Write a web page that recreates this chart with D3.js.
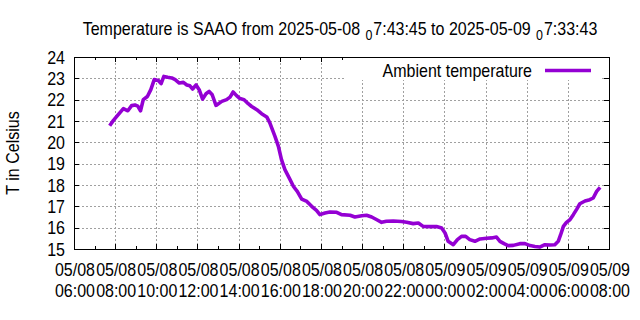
<!DOCTYPE html>
<html><head><meta charset="utf-8">
<script src="https://cdn.jsdelivr.net/npm/d3@7"></script>
<style>
html,body{margin:0;padding:0;background:#fff;}
svg text{font-family:"Liberation Sans",Arial,sans-serif;fill:#000;}
</style></head>
<body>
<svg id="chart" width="640" height="320"></svg>
<script>
const titleParts = ["Temperature is SAAO from 2025-05-08", "0", "7:43:45 to 2025-05-09", "0", "7:33:43"];
const yLabel = "T in Celsius";
const seriesName = "Ambient temperature";
const xDomain = ["2025-05-08 06:00", "2025-05-09 08:00"];
const yDomain = [15, 24];
const yTicks = [15, 16, 17, 18, 19, 20, 21, 22, 23, 24];
const times = [
"2025-05-08 07:44","2025-05-08 07:55","2025-05-08 08:09","2025-05-08 08:24","2025-05-08 08:37","2025-05-08 08:48",
"2025-05-08 08:58","2025-05-08 09:06","2025-05-08 09:14","2025-05-08 09:22","2025-05-08 09:34","2025-05-08 09:44",
"2025-05-08 09:54","2025-05-08 10:06","2025-05-08 10:14","2025-05-08 10:22","2025-05-08 10:33","2025-05-08 10:45",
"2025-05-08 10:55","2025-05-08 11:07","2025-05-08 11:19","2025-05-08 11:29","2025-05-08 11:38","2025-05-08 11:46",
"2025-05-08 11:56","2025-05-08 12:05","2025-05-08 12:15","2025-05-08 12:25","2025-05-08 12:34","2025-05-08 12:43",
"2025-05-08 12:54","2025-05-08 13:11","2025-05-08 13:25","2025-05-08 13:35","2025-05-08 13:44","2025-05-08 13:54",
"2025-05-08 14:04","2025-05-08 14:16","2025-05-08 14:28","2025-05-08 14:38","2025-05-08 14:53","2025-05-08 15:07",
"2025-05-08 15:22","2025-05-08 15:31","2025-05-08 15:46","2025-05-08 15:56","2025-05-08 16:05","2025-05-08 16:15",
"2025-05-08 16:30","2025-05-08 16:40","2025-05-08 16:51","2025-05-08 17:04","2025-05-08 17:19","2025-05-08 17:33",
"2025-05-08 17:47","2025-05-08 17:57","2025-05-08 18:12","2025-05-08 18:26","2025-05-08 18:46","2025-05-08 19:00",
"2025-05-08 19:25","2025-05-08 19:39","2025-05-08 19:59","2025-05-08 20:13","2025-05-08 20:28","2025-05-08 20:43",
"2025-05-08 20:57","2025-05-08 21:11","2025-05-08 21:31","2025-05-08 21:55","2025-05-08 22:10","2025-05-08 22:29",
"2025-05-08 22:44","2025-05-08 22:58","2025-05-08 23:18","2025-05-08 23:37","2025-05-08 23:52","2025-05-09 00:02",
"2025-05-09 00:11","2025-05-09 00:26","2025-05-09 00:38","2025-05-09 00:50","2025-05-09 01:02","2025-05-09 01:14",
"2025-05-09 01:29","2025-05-09 01:44","2025-05-09 02:03","2025-05-09 02:18","2025-05-09 02:32","2025-05-09 02:42",
"2025-05-09 02:54","2025-05-09 03:06","2025-05-09 03:21","2025-05-09 03:40","2025-05-09 03:55","2025-05-09 04:10",
"2025-05-09 04:24","2025-05-09 04:38","2025-05-09 04:53","2025-05-09 05:08","2025-05-09 05:22","2025-05-09 05:32",
"2025-05-09 05:39","2025-05-09 05:47","2025-05-09 05:56","2025-05-09 06:06","2025-05-09 06:16","2025-05-09 06:26",
"2025-05-09 06:35","2025-05-09 06:50","2025-05-09 07:04","2025-05-09 07:14","2025-05-09 07:24","2025-05-09 07:34"
];
const temps = [
20.78,21.03,21.30,21.58,21.48,21.72,
21.75,21.70,21.48,22.00,22.15,22.47,
22.94,22.90,22.75,23.09,23.05,23.02,
22.94,22.78,22.81,22.69,22.65,22.50,
22.69,22.47,22.03,22.28,22.39,22.23,
21.73,21.92,22.00,22.12,22.36,22.19,
22.05,22.00,21.81,21.68,21.53,21.34,
21.19,20.91,20.28,19.81,19.19,18.72,
18.25,17.93,17.70,17.34,17.23,17.00,
16.81,16.61,16.69,16.73,16.72,16.61,
16.58,16.50,16.56,16.58,16.50,16.37,
16.25,16.30,16.31,16.29,16.25,16.19,
16.22,16.06,16.05,16.05,15.98,15.75,
15.36,15.20,15.44,15.59,15.59,15.44,
15.36,15.47,15.50,15.52,15.56,15.36,
15.25,15.16,15.17,15.25,15.25,15.16,
15.12,15.09,15.20,15.19,15.20,15.36,
15.67,16.06,16.25,16.37,16.61,16.87,
17.12,17.25,17.31,17.39,17.70,17.89
];

const W = 640, H = 320;
const m = {left: 74, right: 609, top: 57, bottom: 249};
const FS = 18, SX = 0.89;
const parse = d3.timeParse("%Y-%m-%d %H:%M");
const data = times.map((t, i) => ({t: parse(t), v: temps[i]}));

const svg = d3.select("#chart");
svg.append("rect").attr("width", W).attr("height", H).attr("fill", "#fff");

const x = d3.scaleTime().domain(xDomain.map(parse)).range([m.left, m.right]);
const y = d3.scaleLinear().domain(yDomain).range([m.bottom, m.top]);

const majorTicks = d3.timeHour.every(2).range(parse(xDomain[0]), d3.timeMinute.offset(parse(xDomain[1]), 1));
const minorTicks = d3.timeHour.every(1).range(parse(xDomain[0]), d3.timeMinute.offset(parse(xDomain[1]), 1))
  .filter(d => d.getHours() % 2 === 1);

function txt(g, px, py, str, anchor, extra) {
  return g.append("text")
    .attr("transform", `translate(${px},${py})${extra || ""} scale(${SX},1)`)
    .attr("text-anchor", anchor).attr("font-size", FS).text(str);
}

const grid = svg.append("g").attr("stroke", "#a0a0a0").attr("stroke-width", 1).attr("stroke-dasharray", "2,2").attr("shape-rendering", "crispEdges");
grid.selectAll(".gx").data(majorTicks.slice(1, -1)).join("line")
  .attr("x1", d => Math.round(x(d)) + 0.5).attr("x2", d => Math.round(x(d)) + 0.5)
  .attr("y1", m.bottom).attr("y2", m.top);
grid.selectAll(".gy").data(yTicks.slice(1, -1)).join("line")
  .attr("y1", d => Math.round(y(d)) + 0.5).attr("y2", d => Math.round(y(d)) + 0.5)
  .attr("x1", m.left).attr("x2", m.right);

const fmt1 = d3.timeFormat("%m/%d"), fmt2 = d3.timeFormat("%H:%M");
const mk = (axis, tr) => svg.append("g").attr("transform", tr).call(axis);
const gxb = mk(d3.axisBottom(x).tickValues(majorTicks).tickSizeInner(-5).tickSizeOuter(0).tickFormat(() => ""), `translate(0,${m.bottom})`);
const gxt = mk(d3.axisTop(x).tickValues(majorTicks).tickSizeInner(-5).tickSizeOuter(0).tickFormat(() => ""), `translate(0,${m.top})`);
const gmb = mk(d3.axisBottom(x).tickValues(minorTicks).tickSizeInner(-3).tickSizeOuter(0).tickFormat(() => ""), `translate(0,${m.bottom})`);
const gmt = mk(d3.axisTop(x).tickValues(minorTicks).tickSizeInner(-3).tickSizeOuter(0).tickFormat(() => ""), `translate(0,${m.top})`);
const gyl = mk(d3.axisLeft(y).tickValues(yTicks).tickSizeInner(-5).tickSizeOuter(0).tickFormat(() => ""), `translate(${m.left},0)`);
const gyr = mk(d3.axisRight(y).tickValues(yTicks).tickSizeInner(-5).tickSizeOuter(0).tickFormat(() => ""), `translate(${m.right},0)`);
[gxb, gxt, gmb, gmt, gyl, gyr].forEach(g => {
  g.select(".domain").remove();
  g.selectAll("text").remove();
  g.selectAll("line").attr("stroke", "#000").attr("shape-rendering", "crispEdges");
});

const yl = svg.append("g");
yTicks.forEach(v => txt(yl, 65, y(v) + 6.5, d3.format("d")(v), "end"));

const xl = svg.append("g");
majorTicks.forEach(d => {
  txt(xl, x(d) + 1, 276, fmt1(d), "middle");
  txt(xl, x(d) + 1, 297, fmt2(d), "middle");
});

const legX0 = 345, legX1 = 601, legY0 = 58, legY1 = 80;
svg.append("rect").attr("x", legX0).attr("y", legY0).attr("width", legX1 - legX0).attr("height", legY1 - legY0).attr("fill", "#fff");

const line = d3.line().x(d => x(d.t)).y(d => y(d.v));
svg.append("path").datum(data).attr("d", line).attr("fill", "none")
  .attr("stroke", "#9400d3").attr("stroke-width", 3.6).attr("stroke-linejoin", "round").attr("stroke-linecap", "butt");

svg.append("rect").attr("x", m.left + 0.5).attr("y", m.top + 0.5).attr("width", m.right - m.left).attr("height", m.bottom - m.top)
  .attr("fill", "none").attr("stroke", "#000").attr("stroke-width", 1).attr("shape-rendering", "crispEdges");

txt(svg, 532, 77, seriesName, "end");
svg.append("line").attr("x1", 545).attr("x2", 591).attr("y1", 70.5).attr("y2", 70.5).attr("stroke", "#9400d3").attr("stroke-width", 3.6);

const tt = txt(svg, 340, 35, "", "middle");
titleParts.forEach((p, i) => {
  const s = tt.append("tspan").text(p);
  if (i % 2 === 1) s.attr("font-size", 14).attr("dy", 5).attr("dx", 6);
  else if (i > 0) s.attr("dy", -5).attr("dx", 1);
});

txt(svg, 19, 153, yLabel, "middle", " rotate(-90)");
</script>
</body></html>
